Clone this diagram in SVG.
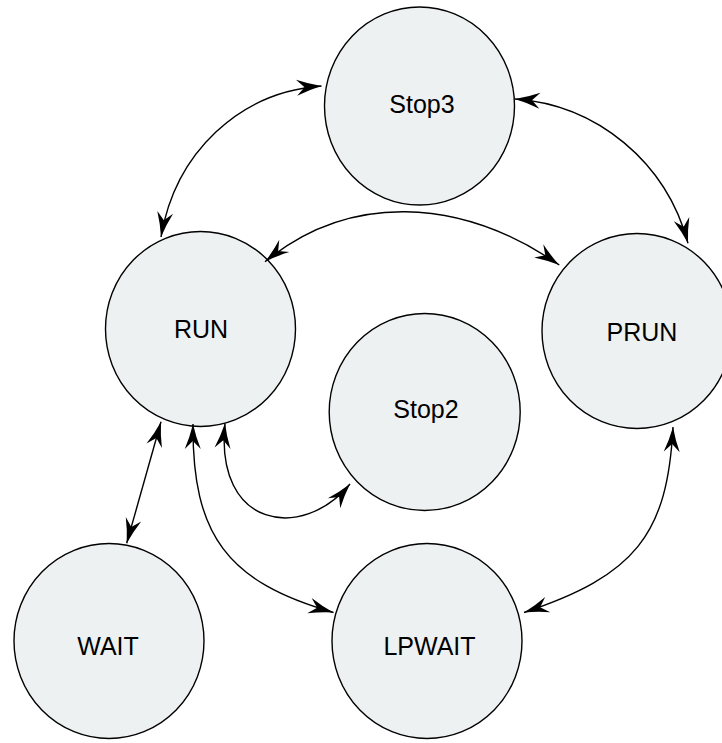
<svg xmlns="http://www.w3.org/2000/svg" width="722" height="743" viewBox="0 0 722 743">
<style>
.node ellipse{fill:#eef1f2;stroke:#000;stroke-width:1.4}
.node text{font-family:"Liberation Sans",Arial,Helvetica,sans-serif;font-size:25px;fill:#000;text-anchor:middle}
.conn path{fill:none;stroke:#000;stroke-width:1.4;marker-start:url(#arr);marker-end:url(#arr)}
</style>
<defs>
<marker id="arr" markerUnits="userSpaceOnUse" orient="auto-start-reverse" viewBox="-28 -10 30 20" refX="0" refY="0" markerWidth="30" markerHeight="20" overflow="visible">
<path d="M0,0 Q-13,-3 -25,-8 L-17,0 L-25,8 Q-13,3 0,0 Z" fill="#000"/>
</marker>
</defs>
<rect width="722" height="743" fill="#fff"/>
<g id="Stop3" class="node"><ellipse cx="419.5" cy="106" rx="95" ry="99"/><text x="422" y="113">Stop3</text></g>
<g id="RUN" class="node"><ellipse cx="200.5" cy="329" rx="95" ry="97.5"/><text x="201" y="338">RUN</text></g>
<g id="PRUN" class="node"><ellipse cx="637" cy="331" rx="95" ry="97.5"/><text x="642" y="341">PRUN</text></g>
<g id="Stop2" class="node"><ellipse cx="424.7" cy="412" rx="95.5" ry="98.5"/><text x="426" y="418">Stop2</text></g>
<g id="WAIT" class="node"><ellipse cx="109" cy="641" rx="95" ry="97.5"/><text x="108" y="655">WAIT</text></g>
<g id="LPWAIT" class="node"><ellipse cx="427" cy="641" rx="95" ry="97.5"/><text x="429.5" y="655">LPWAIT</text></g>
<g id="connectors" class="conn">
<path d="M161,237 C175.4,152.4 239.4,92 321.5,86"/>
<path d="M515,99 C597.2,104.7 666.4,162.3 688,243.3"/>
<path d="M265,261.7 C347.7,193.9 458,195.1 559.3,265"/>
<path d="M161,421.7 L126.7,543.3"/>
<path d="M225,423.3 C214.5,528.3 302.2,541.8 350,484"/>
<path d="M193,424 C192,535.3 227.4,582.3 333.5,612.5"/>
<path d="M673,427 C667.5,534.9 634.8,575.7 524,612.5"/>
</g>
</svg>
